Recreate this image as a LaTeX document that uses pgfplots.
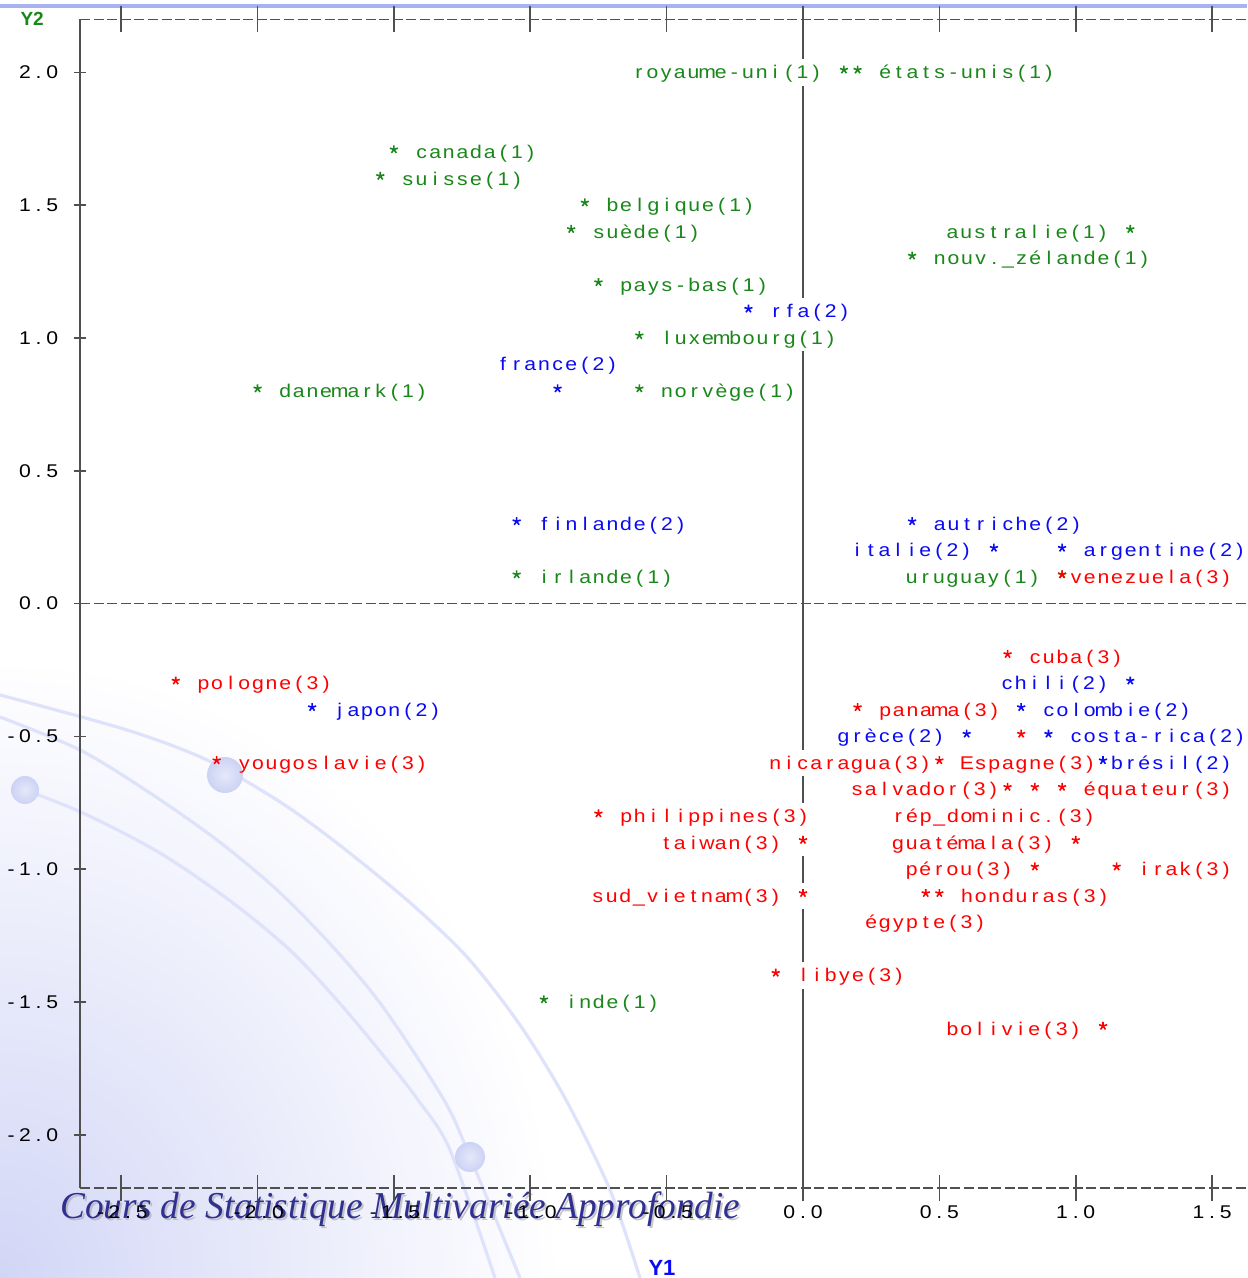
\documentclass[border=0pt]{standalone}
\usepackage{fontspec}
\setmainfont{Liberation Sans}
\newfontfamily\sasf[FakeStretch=1.15]{Liberation Sans}
\newfontfamily\titlef{Liberation Serif}
\usepackage{graphicx}
\usepackage{pgfplots}
\usepackage{pgfplotstable}
\pgfplotsset{compat=1.18}

\definecolor{cgreen}{RGB}{25,135,25}
\definecolor{cblue}{RGB}{10,10,245}
\definecolor{cred}{RGB}{255,0,0}
\definecolor{cline}{RGB}{80,80,80}
\definecolor{clav}{RGB}{210,214,246}
\definecolor{ccurve}{RGB}{222,226,250}
\definecolor{csph}{RGB}{204,210,244}
\definecolor{cbar}{RGB}{168,178,240}
\definecolor{ctitle}{RGB}{48,48,145}

\newcommand\sasfont{\sasf\fontsize{9.2pt}{10pt}\selectfont}
\newlength\sascell \setlength\sascell{6.82pt}
\makeatletter
\newcommand\sas[1]{\edef\sas@tmp{#1}\expandafter\sas@do\expandafter{\sas@tmp}}
\newcommand\sas@do[1]{\@tfor\sas@c:=#1\do{\makebox[\sascell][c]{\sas@c}}}
\makeatother

% label tables: x is the anchor point of the label (star x +/- 1.5 or 0.5 cells of 0.05)
\catcode`\_=12
\pgfplotstableread{
x y lab
0.275 2.0 états-unis(1)
-1.425 1.7 canada(1)
-1.475 1.6 suisse(1)
-0.725 1.5 belgique(1)
-0.775 1.4 suède(1)
0.475 1.3 nouv._zélande(1)
-0.675 1.2 pays-bas(1)
-0.525 1.0 luxembourg(1)
-1.925 0.8 danemark(1)
-0.525 0.8 norvège(1)
-0.975 0.1 irlande(1)
-0.875 -1.5 inde(1)
}\labgreenR
\pgfplotstableread{
x y lab
0.075 2.0 royaume-uni(1)
1.125 1.4 australie(1)
0.875 0.1 uruguay(1)
}\labgreenL
\pgfplotstableread{
x y lab
-0.125 1.1 rfa(2)
-0.975 0.3 finlande(2)
0.475 0.3 autriche(2)
1.025 0.2 argentine(2)
-1.725 -0.4 japon(2)
0.875 -0.4 colombie(2)
0.975 -0.5 costa-rica(2)
1.125 -0.6 brésil(2)
}\labblueR
\pgfplotstableread{
x y lab
0.625 0.2 italie(2)
1.125 -0.3 chili(2)
0.525 -0.5 grèce(2)
}\labblueL
\pgfplotstableread{
x y lab
-0.90 0.9 france(2)
}\labblueC
\pgfplotstableread{
x y lab
0.975 0.1 venezuela(3)
0.825 -0.2 cuba(3)
-2.225 -0.3 pologne(3)
0.275 -0.4 panama(3)
-2.075 -0.6 yougoslavie(3)
0.575 -0.6 Espagne(3)
1.025 -0.7 équateur(3)
-0.675 -0.8 philippines(3)
1.225 -1.0 irak(3)
0.575 -1.1 honduras(3)
-0.025 -1.4 libye(3)
}\labredR
\pgfplotstableread{
x y lab
0.475 -0.6 nicaragua(3)
0.725 -0.7 salvador(3)
-0.075 -0.9 taiwan(3)
0.925 -0.9 guatémala(3)
0.775 -1.0 pérou(3)
-0.075 -1.1 sud_vietnam(3)
1.025 -1.6 bolivie(3)
}\labredL
\pgfplotstableread{
x y lab
0.70 -0.8 rép_dominic.(3)
0.45 -1.2 égypte(3)
}\labredC
\catcode`\_=8

\pgfplotstableread{
x y
0.15 2.0
0.20 2.0
-1.50 1.7
-1.55 1.6
-0.80 1.5
-0.85 1.4
1.20 1.4
0.40 1.3
-0.75 1.2
-0.60 1.0
-2.00 0.8
-0.60 0.8
-1.05 0.1
0.95 0.1
-0.95 -1.5
}\stargreen
\pgfplotstableread{
x y
-0.20 1.1
-0.90 0.8
-1.05 0.3
0.40 0.3
0.70 0.2
0.95 0.2
1.20 -0.3
-1.80 -0.4
0.80 -0.4
0.60 -0.5
0.90 -0.5
1.10 -0.6
}\starblue
\pgfplotstableread{
x y
0.95 0.1
0.75 -0.2
-2.30 -0.3
0.20 -0.4
-2.15 -0.6
0.80 -0.5
0.50 -0.6
0.75 -0.7
0.85 -0.7
0.95 -0.7
-0.75 -0.8
0.00 -0.9
1.00 -0.9
0.85 -1.0
1.15 -1.0
0.00 -1.1
0.45 -1.1
0.50 -1.1
-0.10 -1.4
1.10 -1.6
}\starred

\pgfplotsset{
  sas labels/.style 2 args={
    only marks, mark=none,
    point meta=explicit symbolic,
    nodes near coords={\sas{\pgfplotspointmeta}},
    every node near coord/.append style={anchor=#2,
      yshift=-3.2pt, inner sep=0pt, font=\sasfont, text=#1},
  },
  sas stars/.style={
    only marks, mark=star, mark size=2.1pt, color=#1,
    mark options={line width=0.8pt, yshift=1.3pt},
  },
}

\begin{document}
\begin{tikzpicture}
% background (slide template)
\begin{scope}[x=0.5pt, y=-0.5pt, shift={(0pt,639pt)}]
  \fill[white] (0,0) rectangle (1247,1278);
  \begin{scope}
    \clip (0,0) rectangle (1247,1278);
    \shade[inner color=clav, outer color=white] (0,1278) ellipse (560 and 620);
    \draw[ccurve, line width=1.6pt] plot[smooth] coordinates
      {(0,695) (127,730) (207,760) (277,800) (333,840) (407,900) (467,957) (520,1025) (566,1100) (610,1190) (640,1278)};
    \draw[ccurve, line width=1.6pt] plot[smooth] coordinates
      {(0,717) (80,750) (150,793) (217,840) (277,890) (333,947) (383,1007) (444,1100) (470,1157) (520,1278)};
    \draw[ccurve, line width=1.6pt] plot[smooth] coordinates
      {(25,790) (83,813) (160,853) (233,903) (293,953) (343,1007) (387,1060) (418,1100) (450,1150) (495,1278)};
    \shade[inner color=white!50!csph, outer color=csph] (25,790) circle (14);
    \shade[inner color=white!50!csph, outer color=csph] (225,775) circle (18);
    \shade[inner color=white!50!csph, outer color=csph] (470,1157) circle (15);
  \end{scope}
  \fill[cbar] (0,4) rectangle (1247,8.5);
\end{scope}
% course title
\node[anchor=base west, inner sep=0pt, text=black!35, opacity=0.6] at (31pt,28.5pt)
  {\resizebox{340pt}{\height}{\titlef\itshape\fontsize{19pt}{22pt}\selectfont Cours de Statistique Multivariée Approfondie}};
\node[anchor=base west, inner sep=0pt, text=ctitle] at (30pt,29.5pt)
  {\resizebox{340pt}{\height}{\titlef\itshape\fontsize{19pt}{22pt}\selectfont Cours de Statistique Multivariée Approfondie}};

\begin{axis}[
  at={(40pt,45pt)}, anchor=south west,
  scale only axis, width=583.5pt, height=584.35pt,
  xmin=-2.651, xmax=1.628, ymin=-2.2, ymax=2.2,
  axis x line*=box, axis y line*=left,
  separate axis lines,
  x axis line style={cline, line width=0.7pt, dash pattern=on 5pt off 1.8pt},
  y axis line style={cline, line width=0.8pt},
  xtick={-2.5,-2,-1.5,-1,-0.5,0,0.5,1,1.5},
  xticklabels={\sas{-2.5},\sas{-2.0},\sas{-1.5},\sas{-1.0},\sas{-0.5},\sas{0.0},\sas{0.5},\sas{1.0},\sas{1.5}},
  ytick={-2,-1.5,-1,-0.5,0,0.5,1,1.5,2},
  yticklabels={\sas{-2.0},\sas{-1.5},\sas{-1.0},\sas{-0.5},\sas{0.0},\sas{0.5},\sas{1.0},\sas{1.5},\sas{2.0}},
  tick align=center,
  major tick length=6pt,
  xtick style={/pgfplots/major tick length=13pt},
  tick style={cline, line width=0.8pt},
  minor tick num=0,
  xticklabel style={anchor=center, inner sep=0pt, yshift=-9pt, font=\sasfont, text=black},
  yticklabel style={anchor=east, inner sep=0pt, xshift=-7.3pt, font=\sasfont, text=black},
  xlabel={Y1}, ylabel={Y2},
  every axis x label/.style={at={(axis description cs:0.4987,-0.0685)}, anchor=center,
    font=\bfseries\fontsize{11pt}{12pt}\selectfont, text=cblue},
  every axis y label/.style={at={(axis description cs:-0.041,1.0)}, anchor=center,
    font=\bfseries\fontsize{9.5pt}{11pt}\selectfont, text=cgreen},
  clip=false,
  unbounded coords=jump,
]
% vertical reference line at Y1 = 0, interrupted where text rows cross it
\addplot[cline, line width=0.9pt, forget plot] coordinates {
  (0,-2.2) (0,-1.45) (0,nan)
  (0,-1.35) (0,-1.15) (0,nan)
  (0,-1.05) (0,-0.95) (0,nan)
  (0,-0.75) (0,-0.65) (0,nan)
  (0,-0.55) (0,0.95) (0,nan)
  (0,1.15) (0,1.95) (0,nan)
  (0,2.05) (0,2.2)};
\addplot[cline, line width=0.7pt, dash pattern=on 5pt off 1.8pt, forget plot] coordinates {(-2.651,0) (1.628,0)};

\addplot[sas labels={cgreen}{base west}] table[x=x, y=y, meta=lab] {\labgreenR};
\addplot[sas labels={cgreen}{base east}] table[x=x, y=y, meta=lab] {\labgreenL};
\addplot[sas labels={cblue}{base west}] table[x=x, y=y, meta=lab] {\labblueR};
\addplot[sas labels={cblue}{base east}] table[x=x, y=y, meta=lab] {\labblueL};
\addplot[sas labels={cblue}{base}] table[x=x, y=y, meta=lab] {\labblueC};
\addplot[sas labels={cred}{base west}] table[x=x, y=y, meta=lab] {\labredR};
\addplot[sas labels={cred}{base east}] table[x=x, y=y, meta=lab] {\labredL};
\addplot[sas labels={cred}{base}] table[x=x, y=y, meta=lab] {\labredC};

\addplot[sas stars=cgreen] table[x=x, y=y] {\stargreen};
\addplot[sas stars=cblue] table[x=x, y=y] {\starblue};
\addplot[sas stars=cred] table[x=x, y=y] {\starred};
\end{axis}
\pgfresetboundingbox
\useasboundingbox (0,0) rectangle (623.5pt,639pt);
\end{tikzpicture}
\end{document}
